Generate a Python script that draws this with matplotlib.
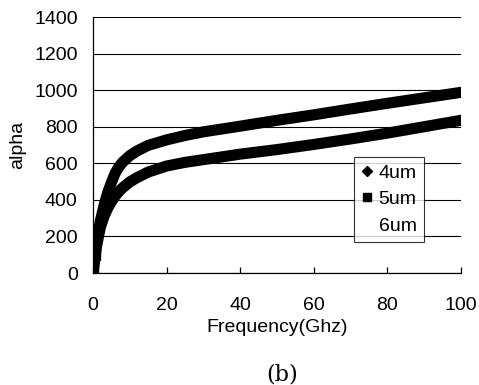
import matplotlib
matplotlib.use("Agg")
import matplotlib.pyplot as plt
from matplotlib.lines import Line2D

plt.rcParams['font.family'] = ['Liberation Sans', 'DejaVu Sans']

freq_4um = [0, 0.5, 1, 2, 3, 4, 5, 6, 7, 8, 10, 12, 15, 20, 25, 30, 40, 50, 60, 70, 80, 90, 100]
alpha_4um = [0, 80, 150, 250, 310, 355, 390, 420, 445, 465, 498, 522, 552, 585, 605, 620, 650, 675, 703, 733, 765, 800, 835]

freq_5um = [0, 0.5, 1, 2, 3, 4, 5, 6, 7, 8, 10, 12, 15, 20, 25, 30, 40, 50, 60, 70, 80, 90, 100]
alpha_5um = [0, 100, 180, 285, 370, 440, 495, 545, 580, 605, 642, 668, 698, 728, 752, 772, 803, 835, 865, 897, 928, 958, 988]

labels = ['4um', '5um', '6um']
x_ticks = [0, 20, 40, 60, 80, 100]
y_ticks = [0, 200, 400, 600, 800, 1000, 1200, 1400]

FS = 14

fig = plt.figure(figsize=(4.79, 3.85), dpi=100)
ax = fig.add_axes([93/479, 1 - 273/385, (461-93)/479, (273-17)/385])

ax.plot(freq_4um, alpha_4um, color='black', lw=8, solid_capstyle='round', zorder=3)
ax.plot(freq_5um, alpha_5um, color='black', lw=8, solid_capstyle='round', zorder=3)
ax.plot(freq_5um[:2], alpha_5um[:2], color='black', lw=0, marker='s', ms=7, zorder=3)

ax.set_xlim(0, 100)
ax.set_ylim(0, 1400)
ax.set_xticks(x_ticks)
ax.set_yticks(y_ticks)
ax.yaxis.grid(True, color='black', lw=0.8)
ax.set_axisbelow(True)
for s in ['top', 'right']:
    ax.spines[s].set_visible(False)
for s in ['left', 'bottom']:
    ax.spines[s].set_linewidth(0.9)
ax.tick_params(axis='x', direction='in', length=4, labelsize=FS, pad=17, width=0.9)
ax.tick_params(axis='y', direction='out', length=0, labelsize=FS, pad=11)
ax.set_xlabel('Frequency(Ghz)', fontsize=FS, labelpad=4)
ax.set_ylabel('alpha', fontsize=FS, labelpad=6)

handles = [
    Line2D([], [], color='black', marker='D', ms=5, lw=0),
    Line2D([], [], color='black', marker='s', ms=6, lw=0),
    Line2D([], [], color='white', marker='', lw=0),
]
leg = ax.legend(handles, labels, loc='upper left', bbox_to_anchor=(0.71, 0.455),
                fontsize=FS, frameon=True, fancybox=False, handlelength=0.5,
                handletextpad=0.35, borderpad=0.4, labelspacing=0.45, borderaxespad=0)
leg.get_frame().set_edgecolor('black')
leg.get_frame().set_linewidth(0.8)

fig.text(282/479, 1 - 374/385, '(b)', fontsize=16, family='DejaVu Serif', ha='center', va='center')

fig.savefig('out.png', dpi=100)
